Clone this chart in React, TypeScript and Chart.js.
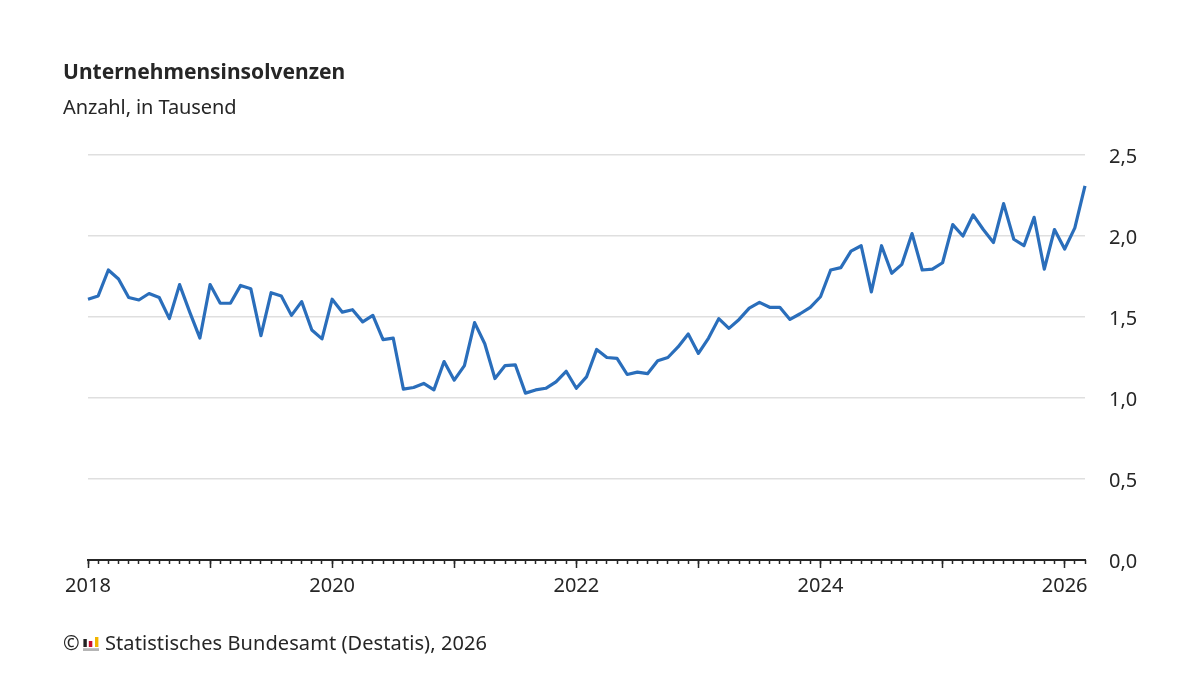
import React, { useEffect, useRef } from "react";
import { Chart, registerables } from "chart.js";

Chart.register(...registerables);

const FONT = '"Noto Sans", sans-serif';
const INK = "#262626";

const titleText = "Unternehmensinsolvenzen";
const subtitleText = "Anzahl, in Tausend";
const sourceText = "Statistisches Bundesamt (Destatis), 2026";

const seriesName = "Unternehmensinsolvenzen";
const values2018 = [1.61, 1.63, 1.79, 1.735, 1.62, 1.605, 1.645, 1.62, 1.49, 1.7, 1.53, 1.37];
const values2019 = [1.7, 1.585, 1.585, 1.695, 1.675, 1.385, 1.65, 1.63, 1.51, 1.595, 1.42, 1.365];
const values2020 = [1.61, 1.53, 1.545, 1.47, 1.51, 1.36, 1.37, 1.055, 1.065, 1.09, 1.05, 1.225];
const values2021 = [1.11, 1.2, 1.465, 1.335, 1.12, 1.2, 1.205, 1.03, 1.05, 1.06, 1.1, 1.165];
const values2022 = [1.06, 1.13, 1.3, 1.25, 1.245, 1.145, 1.16, 1.15, 1.23, 1.25, 1.315, 1.395];
const values2023 = [1.275, 1.37, 1.49, 1.43, 1.485, 1.555, 1.59, 1.56, 1.56, 1.485, 1.52, 1.56];
const values2024 = [1.625, 1.79, 1.805, 1.907, 1.94, 1.655, 1.94, 1.77, 1.825, 2.015, 1.79, 1.795];
const values2025 = [1.835, 2.07, 2.0, 2.13, 2.04, 1.96, 2.2, 1.98, 1.94, 2.115, 1.795, 2.04];
const values2026 = [1.92, 2.05, 2.31];

const allValues = [
  ...values2018, ...values2019, ...values2020, ...values2021, ...values2022,
  ...values2023, ...values2024, ...values2025, ...values2026,
];

const years = [2018, 2019, 2020, 2021, 2022, 2023, 2024, 2025, 2026];
const labelledYears = [2018, 2020, 2022, 2024, 2026];
const yTicks = ["0,0", "0,5", "1,0", "1,5", "2,0", "2,5"];

const categories: string[] = allValues.map((_, i) => {
  const year = years[Math.floor(i / 12)];
  const month = String((i % 12) + 1).padStart(2, "0");
  return `${year}-${month}`;
});

function yearLabel(index: number): string {
  const [year, month] = categories[index].split("-");
  return month === "01" && labelledYears.includes(Number(year)) ? year : "";
}

export default function App() {
  const ref = useRef<HTMLCanvasElement | null>(null);

  useEffect(() => {
    const chart = new Chart(ref.current!, {
      type: "line",
      data: {
        labels: categories,
        datasets: [
          {
            label: seriesName,
            data: allValues,
            borderColor: "#2A6EBB",
            borderWidth: 3.2,
            pointRadius: 0,
            tension: 0,
            clip: false,
            borderJoinStyle: "round",
            xAxisID: "x",
            yAxisID: "y",
          },
        ],
      },
      options: {
        animation: false,
        responsive: false,
        devicePixelRatio: 1,
        layout: { padding: { left: 88, top: 155, right: 0, bottom: 0 } },
        plugins: { legend: { display: false }, title: { display: false }, tooltip: { enabled: false } },
        scales: {
          x: {
            type: "category",
            position: "bottom",
            offset: false,
            afterFit: (s: any) => { s.height = 115; },
            border: { display: true, color: INK, width: 2 },
            grid: {
              drawOnChartArea: false,
              drawTicks: true,
              tickLength: 8,
              tickWidth: 1.5,
              offset: false,
              tickColor: (ctx: any) => (ctx.index % 12 === 0 ? INK : "rgba(0,0,0,0)"),
            },
            ticks: {
              autoSkip: false,
              maxRotation: 0,
              minRotation: 0,
              padding: 6,
              color: INK,
              font: { family: FONT, size: 20 },
              callback: (_v: any, i: number) => yearLabel(i),
            },
          },
          xMinor: {
            type: "category",
            axis: "x",
            position: { y: 0 },
            offset: false,
            border: { display: false },
            grid: { drawOnChartArea: false, drawTicks: true, tickLength: 4, tickWidth: 1.5, tickColor: INK, offset: false },
            ticks: { display: false, autoSkip: false, maxRotation: 0 },
          },
          y: {
            type: "linear",
            position: "right",
            min: 0,
            max: 2.5,
            afterFit: (s: any) => { s.width = 115; },
            border: { display: false },
            grid: { color: "#DFDFDF", lineWidth: 1.5, drawTicks: false },
            ticks: {
              stepSize: 0.5,
              padding: 24,
              color: INK,
              font: { family: FONT, size: 20, lineHeight: "4px" },
              callback: (_v: any, i: number) => ["", yTicks[i]],
            },
          },
        },
      },
    } as any);
    return () => chart.destroy();
  }, []);

  const abs = (left: number, top: number, extra: React.CSSProperties = {}): React.CSSProperties => ({
    position: "absolute",
    left,
    top,
    whiteSpace: "nowrap",
    color: INK,
    fontFamily: FONT,
    ...extra,
  });

  return (
    <div style={{ position: "fixed", left: 0, top: 0, width: 1200, height: 675, background: "#fff", overflow: "hidden" }}>
      <canvas ref={ref} width={1200} height={675} style={{ display: "block", width: 1200, height: 675 }} />
      <div style={abs(63, 56, { fontSize: 21, fontWeight: 700, lineHeight: "30px" })}>{titleText}</div>
      <div style={abs(63, 93, { fontSize: 20, letterSpacing: -0.1, lineHeight: "28px" })}>{subtitleText}</div>
      <div style={abs(63, 629, { fontSize: 20, lineHeight: "28px" })}>©</div>
      <svg style={{ position: "absolute", left: 83, top: 636 }} width={16} height={16} viewBox="0 0 16 16">
        <rect x={0.4} y={3} width={3.4} height={8} fill="#222" />
        <rect x={5.8} y={5} width={3.5} height={6} fill="#C8102E" />
        <rect x={12} y={1} width={3.4} height={10} fill="#F2B500" />
        <rect x={0} y={12.2} width={16} height={2.8} fill="#B5B5B5" />
      </svg>
      <div style={abs(105, 629, { fontSize: 20, letterSpacing: 0.08, lineHeight: "28px" })}>{sourceText}</div>
    </div>
  );
}
